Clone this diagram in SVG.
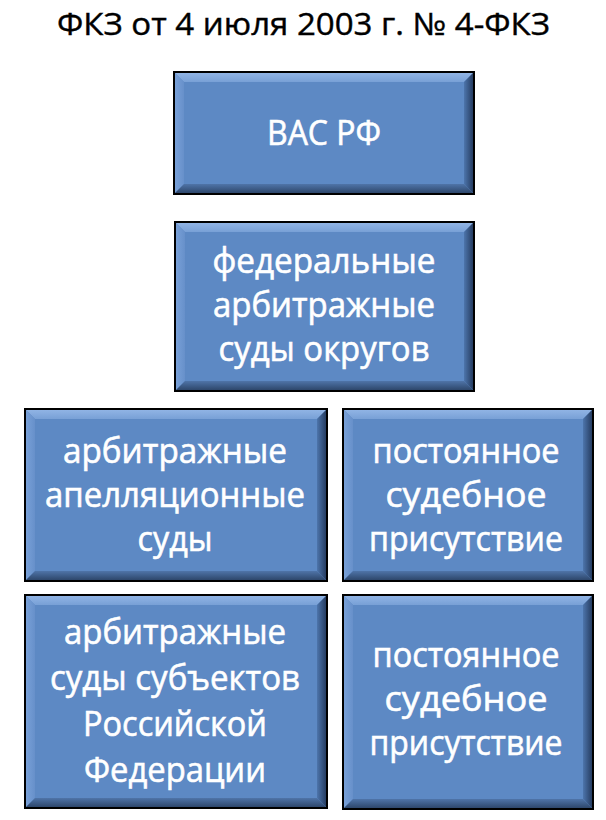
<svg xmlns="http://www.w3.org/2000/svg" width="606" height="820" viewBox="0 0 606 820">
<defs>
<linearGradient id="gTop" x1="0" y1="0" x2="0" y2="1"><stop offset="0" stop-color="#93B6E6"/><stop offset="1" stop-color="#78A0D6"/></linearGradient>
<linearGradient id="gLeft" x1="0" y1="0" x2="1" y2="0"><stop offset="0" stop-color="#7AA2D9"/><stop offset="1" stop-color="#6790CA"/></linearGradient>
<linearGradient id="gRight" x1="0" y1="0" x2="1" y2="0"><stop offset="0" stop-color="#4D75AC"/><stop offset="1" stop-color="#22375A"/></linearGradient>
<linearGradient id="gBottom" x1="0" y1="0" x2="0" y2="1"><stop offset="0" stop-color="#4F74A8"/><stop offset="1" stop-color="#2A4265"/></linearGradient>
</defs>
<style>
.face{fill:#5D89C4}
.bt{fill:url(#gTop)}
.bl{fill:url(#gLeft)}
.br{fill:url(#gRight)}
.bb{fill:url(#gBottom)}
.edge{fill:none;stroke:#000;stroke-width:2}
.lbl{font-family:"Open Sans","Noto Sans","DejaVu Sans",sans-serif;font-size:34px;fill:#FFFFFF;stroke:#FFFFFF;stroke-width:0.6px;text-anchor:middle}
.title{font-family:"Open Sans","Noto Sans","DejaVu Sans",sans-serif;font-size:31px;fill:#000000;stroke:#000000;stroke-width:0.4px}
</style>
<rect width="606" height="820" fill="#FFFFFF"/>
<text class="title" x="57" y="35" textLength="493" lengthAdjust="spacingAndGlyphs">ФКЗ от 4 июля 2003 г. № 4-ФКЗ</text>

<g id="node-vas">
<rect class="face" x="174" y="72" width="300" height="122"/>
<polygon class="bt" points="174,72 474,72 464,82 184,82"/>
<polygon class="bl" points="174,72 184,82 184,184 174,194"/>
<polygon class="br" points="474,72 474,194 464,184 464,82"/>
<polygon class="bb" points="174,194 184,184 464,184 474,194"/>
<rect class="edge" x="174" y="72" width="300" height="122"/>
<text class="lbl" x="324" y="145" textLength="114" lengthAdjust="spacingAndGlyphs">ВАС РФ</text>
</g>

<g id="node-fas">
<rect class="face" x="175" y="222" width="299" height="169"/>
<polygon class="bt" points="175,222 474,222 464,232 185,232"/>
<polygon class="bl" points="175,222 185,232 185,381 175,391"/>
<polygon class="br" points="474,222 474,391 464,381 464,232"/>
<polygon class="bb" points="175,391 185,381 464,381 474,391"/>
<rect class="edge" x="175" y="222" width="299" height="169"/>
<text class="lbl" x="324" y="273" textLength="223" lengthAdjust="spacingAndGlyphs">федеральные</text>
<text class="lbl" x="324" y="317" textLength="222" lengthAdjust="spacingAndGlyphs">арбитражные</text>
<text class="lbl" x="324" y="361" textLength="211" lengthAdjust="spacingAndGlyphs">суды округов</text>
</g>

<g id="node-appeal">
<rect class="face" x="25" y="409" width="302" height="172"/>
<polygon class="bt" points="25,409 327,409 317,419 35,419"/>
<polygon class="bl" points="25,409 35,419 35,571 25,581"/>
<polygon class="br" points="327,409 327,581 317,571 317,419"/>
<polygon class="bb" points="25,581 35,571 317,571 327,581"/>
<rect class="edge" x="25" y="409" width="302" height="172"/>
<text class="lbl" x="175" y="463" textLength="224" lengthAdjust="spacingAndGlyphs">арбитражные</text>
<text class="lbl" x="175" y="507" textLength="260" lengthAdjust="spacingAndGlyphs">апелляционные</text>
<text class="lbl" x="175" y="551" textLength="75" lengthAdjust="spacingAndGlyphs">суды</text>
</g>

<g id="node-presence-1">
<rect class="face" x="343" y="409" width="250" height="172"/>
<polygon class="bt" points="343,409 593,409 583,419 353,419"/>
<polygon class="bl" points="343,409 353,419 353,571 343,581"/>
<polygon class="br" points="593,409 593,581 583,571 583,419"/>
<polygon class="bb" points="343,581 353,571 583,571 593,581"/>
<rect class="edge" x="343" y="409" width="250" height="172"/>
<text class="lbl" x="466" y="463" textLength="187" lengthAdjust="spacingAndGlyphs">постоянное</text>
<text class="lbl" x="466" y="507" textLength="161" lengthAdjust="spacingAndGlyphs">судебное</text>
<text class="lbl" x="466" y="551" textLength="194" lengthAdjust="spacingAndGlyphs">присутствие</text>
</g>

<g id="node-subjects">
<rect class="face" x="25" y="595" width="302" height="213"/>
<polygon class="bt" points="25,595 327,595 317,605 35,605"/>
<polygon class="bl" points="25,595 35,605 35,798 25,808"/>
<polygon class="br" points="327,595 327,808 317,798 317,605"/>
<polygon class="bb" points="25,808 35,798 317,798 327,808"/>
<rect class="edge" x="25" y="595" width="302" height="213"/>
<text class="lbl" x="175" y="644" textLength="222" lengthAdjust="spacingAndGlyphs">арбитражные</text>
<text class="lbl" x="175" y="690" textLength="250" lengthAdjust="spacingAndGlyphs">суды субъектов</text>
<text class="lbl" x="175" y="736" textLength="184" lengthAdjust="spacingAndGlyphs">Российской</text>
<text class="lbl" x="175" y="782" textLength="182" lengthAdjust="spacingAndGlyphs">Федерации</text>
</g>

<g id="node-presence-2">
<rect class="face" x="343" y="595" width="250" height="214"/>
<polygon class="bt" points="343,595 593,595 583,605 353,605"/>
<polygon class="bl" points="343,595 353,605 353,799 343,809"/>
<polygon class="br" points="593,595 593,809 583,799 583,605"/>
<polygon class="bb" points="343,809 353,799 583,799 593,809"/>
<rect class="edge" x="343" y="595" width="250" height="214"/>
<text class="lbl" x="466" y="667" textLength="187" lengthAdjust="spacingAndGlyphs">постоянное</text>
<text class="lbl" x="466" y="711" textLength="163" lengthAdjust="spacingAndGlyphs">судебное</text>
<text class="lbl" x="466" y="755" textLength="193" lengthAdjust="spacingAndGlyphs">присутствие</text>
</g>

<g id="connectors"/>
</svg>
